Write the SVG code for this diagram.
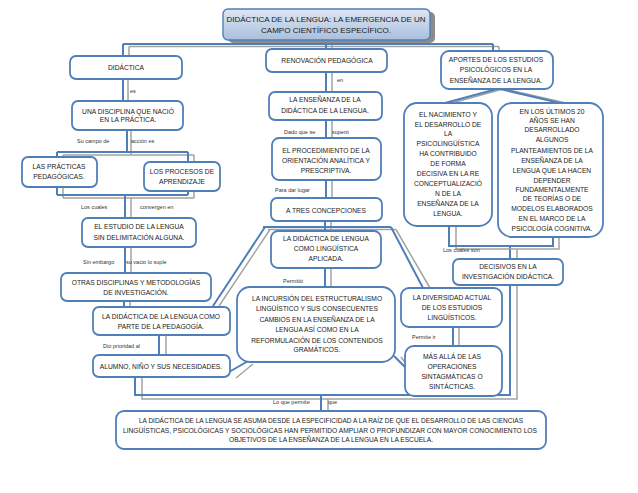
<svg xmlns="http://www.w3.org/2000/svg" width="638" height="493" viewBox="0 0 638 493">
<defs>
<linearGradient id="tg" x1="0" y1="0" x2="0" y2="1">
<stop offset="0" stop-color="#dde6f2"/>
<stop offset="0.5" stop-color="#c4d3e8"/>
<stop offset="1" stop-color="#a9bfdd"/>
</linearGradient>
<style>
.b{fill:#fff;stroke:#4f7fb8;stroke-width:1.8}
.t{font-family:"Liberation Sans",Arial,sans-serif;font-size:6.7px;fill:#1a1a1a;text-anchor:middle}
.tt{font-family:"Liberation Sans",Arial,sans-serif;font-size:8px;fill:#1a1a1a;text-anchor:middle}
.l{font-family:"Liberation Sans",Arial,sans-serif;font-size:5.5px;fill:#333}
.cb{stroke:#4f7fb8;stroke-width:2;fill:none}
.cg{stroke:#a3a3a3;stroke-width:1.5;fill:none}
</style>
</defs>
<rect width="638" height="493" fill="#fff"/>
<g id="connectors">
<path class="cg" d="M129 46.5H499M129 46.5V56M499 46.5V51M332 40V49"/>
<path class="cb" d="M123 44H493M123 44V56M493 44V51M326 40V49"/>
<path class="cg" d="M128 79V101M131 130V155M63 155H194M63 155V198M194 155V198M63 198H194M131 198V218M131 247V273M130 301V307M166 335V355"/>
<path class="cb" d="M123 79V101M127 130V152M57 152H188M57 152V195M188 152V195M57 195H188M125 195V218M125 247V273M124 301V307M159 335V355"/>
<path class="cg" d="M142 377V399H517V249M328 399V411"/>
<path class="cb" d="M135 377V395H510V246M321 395V411"/>
<path class="cg" d="M332 72V92M332 120V138M332 180V198M331 221V231M268 229.5H396M270 229.5L219 306M396 229.5L430 288M331 268V287"/>
<path class="cb" d="M326 72V92M326 120V138M326 180V198M325 221V231M263 227H391M265 227L213 306M391 227L423 288M325 268V287"/>
<path class="cg" d="M253 364L236 378M401 357L412 372M459 327V346"/>
<path class="cb" d="M250 360L229 372M394 356L407 369M453 327V346"/>
<path class="cg" d="M503 89L452 103M505 89L566 103M456 226V249H559V237"/>
<path class="cb" d="M497 89L445 103M500 89L560 103M449 226V246H553V237"/>
</g>
<g id="title">
<rect x="228" y="12" width="207" height="31" rx="5" fill="#8c8c8c"/>
<rect x="223" y="9" width="207" height="31" rx="5" fill="url(#tg)" stroke="#4f7fb8" stroke-width="1.4"/>
<text class="tt" x="326" y="22">DIDÁCTICA DE LA LENGUA: LA EMERGENCIA DE UN</text>
<text class="tt" x="326" y="33">CAMPO CIENTÍFICO ESPECÍFICO.</text>
</g>
<g id="didactica">
<rect class="b" x="70" y="56" width="112" height="23" rx="6"/>
<text class="t" x="126" y="70">DIDÁCTICA</text>
</g>
<g id="disciplina">
<rect class="b" x="72" y="101" width="111" height="29" rx="6"/>
<text class="t" x="128" y="114">UNA DISCIPLINA QUE NACIÓ</text>
<text class="t" x="128" y="122">EN LA PRÁCTICA.</text>
</g>
<g id="practicas">
<rect class="b" x="22" y="157" width="75" height="30" rx="6"/>
<text class="t" x="59" y="169">LAS PRÁCTICAS</text>
<text class="t" x="59" y="179">PEDAGÓGICAS.</text>
</g>
<g id="procesos">
<rect class="b" x="144" y="162" width="76" height="29" rx="6"/>
<text class="t" x="182" y="174">LOS PROCESOS DE</text>
<text class="t" x="182" y="184">APRENDIZAJE</text>
</g>
<g id="estudio">
<rect class="b" x="82" y="218" width="114" height="29" rx="6"/>
<text class="t" x="139" y="229">EL ESTUDIO DE LA LENGUA</text>
<text class="t" x="139" y="240">SIN DELIMITACIÓN ALGUNA.</text>
</g>
<g id="otras">
<rect class="b" x="61" y="273" width="150" height="28" rx="6"/>
<text class="t" x="136" y="285">OTRAS DISCIPLINAS Y METODOLOGÍAS</text>
<text class="t" x="136" y="295">DE INVESTIGACIÓN.</text>
</g>
<g id="pedagogia">
<rect class="b" x="93" y="307" width="137" height="28" rx="6"/>
<text class="t" x="161" y="319">LA DIDÁCTICA DE LA LENGUA COMO</text>
<text class="t" x="161" y="329">PARTE DE LA PEDAGOGÍA.</text>
</g>
<g id="alumno">
<rect class="b" x="93" y="355" width="137" height="22" rx="6"/>
<text class="t" x="161" y="369">ALUMNO, NIÑO Y SUS NECESIDADES.</text>
</g>
<g id="renovacion">
<rect class="b" x="266" y="49" width="121" height="23" rx="6"/>
<text class="t" x="327" y="63">RENOVACIÓN PEDAGÓGICA</text>
</g>
<g id="ensenanza">
<rect class="b" x="269" y="92" width="113" height="28" rx="6"/>
<text class="t" x="325" y="102">LA ENSEÑANZA DE LA</text>
<text class="t" x="325" y="113">DIDÁCTICA DE LA LENGUA.</text>
</g>
<g id="procedimiento">
<rect class="b" x="272" y="138" width="109" height="42" rx="7"/>
<text class="t" x="326" y="153">EL PROCEDIMIENTO DE LA</text>
<text class="t" x="326" y="163">ORIENTACIÓN ANALÍTICA Y</text>
<text class="t" x="326" y="173">PRESCRIPTIVA.</text>
</g>
<g id="tres">
<rect class="b" x="271" y="198" width="111" height="23" rx="6"/>
<text class="t" x="326" y="213">A TRES CONCEPCIONES</text>
</g>
<g id="aplicada">
<rect class="b" x="271" y="231" width="110" height="37" rx="7"/>
<text class="t" x="326" y="241">LA DIDÁCTICA DE LENGUA</text>
<text class="t" x="326" y="251">COMO LINGÜÍSTICA</text>
<text class="t" x="326" y="261">APLICADA.</text>
</g>
<g id="incursion">
<rect class="b" x="237" y="287" width="158" height="75" rx="13"/>
<text class="t" x="317" y="301">LA INCURSIÓN DEL ESTRUCTURALISMO</text>
<text class="t" x="317" y="311">LINGÜÍSTICO Y SUS CONSECUENTES</text>
<text class="t" x="317" y="322">CAMBIOS EN LA ENSEÑANZA DE LA</text>
<text class="t" x="317" y="332">LENGUA ASÍ COMO EN LA</text>
<text class="t" x="317" y="343">REFORMULACIÓN DE LOS CONTENIDOS</text>
<text class="t" x="317" y="352">GRAMÁTICOS.</text>
</g>
<g id="diversidad">
<rect class="b" x="401" y="288" width="101" height="39" rx="8"/>
<text class="t" x="452" y="300">LA DIVERSIDAD ACTUAL</text>
<text class="t" x="452" y="310">DE LOS ESTUDIOS</text>
<text class="t" x="452" y="320">LINGÜÍSTICOS.</text>
</g>
<g id="masalla">
<rect class="b" x="405" y="346" width="97" height="50" rx="9"/>
<text class="t" x="452" y="359">MÁS ALLÁ DE LAS</text>
<text class="t" x="452" y="369">OPERACIONES</text>
<text class="t" x="452" y="379">SINTAGMÁTICAS O</text>
<text class="t" x="452" y="389">SINTÁCTICAS.</text>
</g>
<g id="aportes">
<rect class="b" x="441" y="51" width="112" height="38" rx="8"/>
<text class="t" x="496" y="62">APORTES DE LOS ESTUDIOS</text>
<text class="t" x="496" y="72">PSICOLÓGICOS EN LA</text>
<text class="t" x="496" y="83">ENSEÑANZA DE LA  LENGUA.</text>
</g>
<g id="nacimiento">
<rect class="b" x="404" y="103" width="88" height="123" rx="13"/>
<text class="t" x="448" y="117">EL NACIMIENTO Y</text>
<text class="t" x="448" y="127">EL DESARROLLO DE</text>
<text class="t" x="448" y="136">LA</text>
<text class="t" x="448" y="146">PSICOLINGÜÍSTICA</text>
<text class="t" x="448" y="156">HA CONTRIBUIDO</text>
<text class="t" x="448" y="166">DE FORMA</text>
<text class="t" x="448" y="176">DECISIVA EN LA RE</text>
<text class="t" x="448" y="186">CONCEPTUALIZACIÓ</text>
<text class="t" x="448" y="196">N DE LA</text>
<text class="t" x="448" y="206">ENSEÑANZA DE LA</text>
<text class="t" x="448" y="216">LENGUA.</text>
</g>
<g id="ultimos">
<rect class="b" x="498" y="103" width="105" height="134" rx="14"/>
<text class="t" x="552" y="114">EN LOS ÚLTIMOS 20</text>
<text class="t" x="552" y="123">AÑOS SE HAN</text>
<text class="t" x="552" y="132">DESARROLLADO</text>
<text class="t" x="552" y="142">ALGUNOS</text>
<text class="t" x="552" y="153">PLANTEAMIENTOS DE LA</text>
<text class="t" x="552" y="163">ENSEÑANZA DE LA</text>
<text class="t" x="552" y="173">LENGUA QUE LA HACEN</text>
<text class="t" x="552" y="183">DEPENDER</text>
<text class="t" x="552" y="192">FUNDAMENTALMENTE</text>
<text class="t" x="552" y="201">DE TEORÍAS O DE</text>
<text class="t" x="552" y="211">MODELOS  ELABORADOS</text>
<text class="t" x="552" y="221">EN EL MARCO DE LA</text>
<text class="t" x="552" y="231">PSICOLOGÍA COGNITIVA.</text>
</g>
<g id="decisivos">
<rect class="b" x="453" y="259" width="110" height="26" rx="6"/>
<text class="t" x="508" y="269">DECISIVOS EN LA</text>
<text class="t" x="508" y="279">INVESTIGACIÓN DIDÁCTICA.</text>
</g>
<g id="conclusion">
<rect class="b" x="116" y="411" width="430" height="38" rx="8"/>
<text class="t" x="331" y="423" textLength="384" lengthAdjust="spacingAndGlyphs">LA DIDÁCTICA DE LA LENGUA SE ASUMA DESDE LA ESPECIFICIDAD A LA RAÍZ DE QUE EL DESARROLLO DE LAS CIENCIAS</text>
<text class="t" x="330" y="433" textLength="414" lengthAdjust="spacingAndGlyphs">LINGÜÍSTICAS, PSICOLÓGICAS Y SOCIOLÓGICAS HAN PERMITIDO AMPLIAR O PROFUNDIZAR CON MAYOR CONOCIMIENTO LOS</text>
<text class="t" x="331" y="442" textLength="204" lengthAdjust="spacingAndGlyphs">OBJETIVOS DE LA ENSEÑANZA DE LA LENGUA EN LA ESCUELA.</text>
</g>
<g id="labels">
<text class="l" x="130" y="93">es</text>
<text class="l" x="77" y="143">Su campo de</text>
<text class="l" x="131" y="143">acción es</text>
<text class="l" x="81" y="209">Los cuales</text>
<text class="l" x="140" y="209">convergen en</text>
<text class="l" x="83" y="264">Sin embargo</text>
<text class="l" x="126" y="264">su vacio lo suple</text>
<text class="l" x="103" y="348">Dio prioridad al</text>
<text class="l" x="337" y="82">en</text>
<text class="l" x="284" y="134">Dado que se</text>
<text class="l" x="332" y="134">superó</text>
<text class="l" x="275" y="192">Para dar lugar</text>
<text class="l" x="283" y="283">Permitió</text>
<text class="l" x="412" y="339">Permite ir</text>
<text class="l" x="443" y="252">Los cuales son</text>
<text class="l" x="273" y="404">Lo que permite</text>
<text class="l" x="328" y="404">que</text>
</g>
</svg>
